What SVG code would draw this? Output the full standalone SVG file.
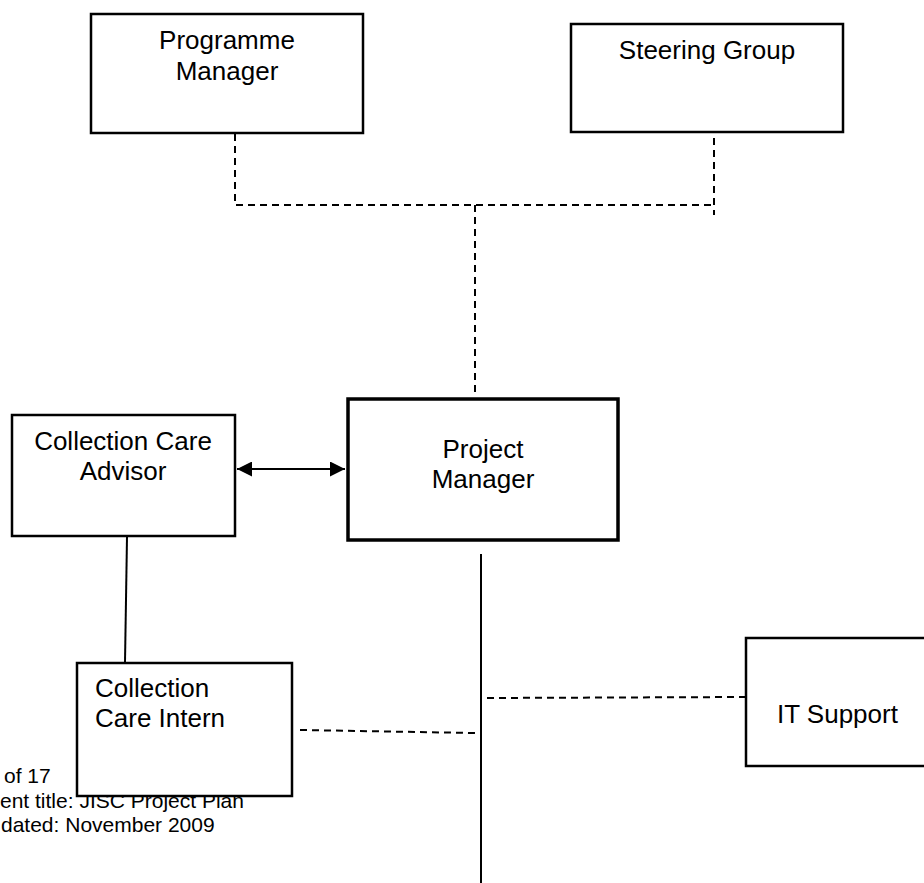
<svg xmlns="http://www.w3.org/2000/svg" width="924" height="883" viewBox="0 0 924 883">
  <style>
    .box { fill: #ffffff; stroke: #000000; stroke-width: 2.5; }
    .thick { stroke-width: 3.5; }
    .lbl { font-family: "Liberation Sans", Arial, sans-serif; font-size: 26px; fill: #000000; }
    .mid { text-anchor: middle; }
    .foot { font-family: "Liberation Sans", Arial, sans-serif; font-size: 21px; fill: #000000; }
    .dash { fill: none; stroke: #000000; stroke-width: 2; stroke-dasharray: 7 5; }
    .solid { fill: none; stroke: #000000; stroke-width: 2; }
  </style>
  <defs>
    <marker id="arrow" viewBox="0 0 15 15" refX="15" refY="7.5" markerWidth="15" markerHeight="15" markerUnits="userSpaceOnUse" orient="auto-start-reverse">
      <path d="M0,0 L15,7.5 L0,15 Z" fill="#000000"/>
    </marker>
  </defs>
  <rect width="924" height="883" fill="#ffffff"/>

  <g id="footer">
    <text class="foot" x="4" y="783">of 17</text>
    <text class="foot" x="0" y="808">ent title: JISC Project Plan</text>
    <text class="foot" x="1" y="832">dated: November 2009</text>
  </g>

  <g id="connectors">
    <path class="dash" d="M235 134 V205 H714"/>
    <path class="dash" d="M714 138 V215"/>
    <path class="dash" d="M475 205 V397"/>
    <line class="solid" x1="237" y1="469" x2="345" y2="469" marker-start="url(#arrow)" marker-end="url(#arrow)"/>
    <path class="solid" d="M127 537 L125 662"/>
    <path class="solid" d="M481 554 V883"/>
    <path class="dash" d="M300 730 L475 733"/>
    <path class="dash" d="M487 698 L745 697"/>
  </g>

  <g id="programme-manager">
    <rect class="box" x="91" y="14" width="272" height="119"/>
    <text class="lbl mid" x="227" y="49">Programme</text>
    <text class="lbl mid" x="227" y="80">Manager</text>
  </g>

  <g id="steering-group">
    <rect class="box" x="571" y="24" width="272" height="108"/>
    <text class="lbl mid" x="707" y="59">Steering Group</text>
  </g>

  <g id="project-manager">
    <rect class="box thick" x="348" y="399" width="270" height="141"/>
    <text class="lbl mid" x="483" y="458">Project</text>
    <text class="lbl mid" x="483" y="488">Manager</text>
  </g>

  <g id="collection-care-advisor">
    <rect class="box" x="12" y="415" width="223" height="121"/>
    <text class="lbl mid" x="123" y="450">Collection Care</text>
    <text class="lbl mid" x="123" y="480">Advisor</text>
  </g>

  <g id="collection-care-intern">
    <rect class="box" x="77" y="663" width="215" height="133"/>
    <text class="lbl" x="95" y="697">Collection</text>
    <text class="lbl" x="95" y="727">Care Intern</text>
  </g>

  <g id="it-support">
    <rect class="box" x="746" y="638" width="200" height="128"/>
    <text class="lbl" x="777" y="723">IT Support</text>
  </g>
</svg>
